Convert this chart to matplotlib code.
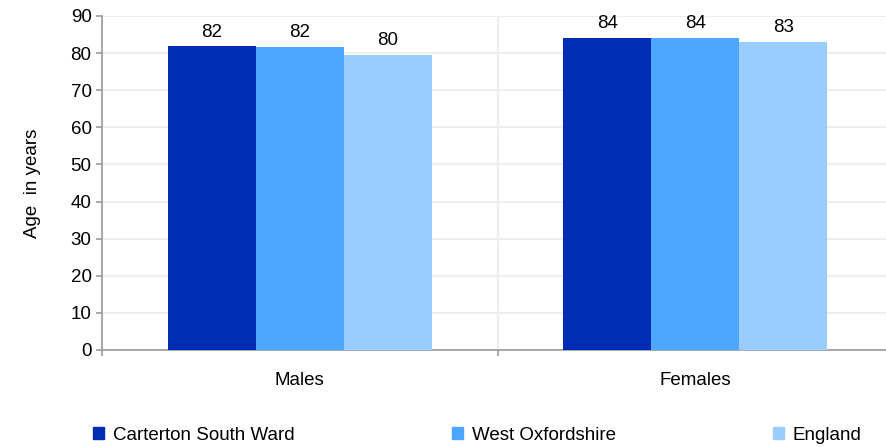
import matplotlib.pyplot as plt
import numpy as np
from matplotlib.patches import Patch

plt.rcParams["font.family"] = ["Liberation Sans", "DejaVu Sans"]

categories = ["Males", "Females"]
series_names = ["Carterton South Ward", "West Oxfordshire", "England"]
values = {
    "Carterton South Ward": [81.9, 84.1],
    "West Oxfordshire": [81.7, 84.1],
    "England": [79.5, 83.0],
}
colours = ["#002db3", "#4da6ff", "#99ccff"]
y_ticks = [0, 10, 20, 30, 40, 50, 60, 70, 80, 90]

W, H = 887, 447
FS = 13.5
fig = plt.figure(figsize=(W / 100, H / 100), dpi=100)
ax = fig.add_axes([102 / W, 1 - 350 / H, (893 - 102) / W, (350 - 16) / H])

x = np.arange(len(categories))
width = 0.2225
for i, (name, col) in enumerate(zip(series_names, colours)):
    vals = values[name]
    bars = ax.bar(x + (i - 1) * width, vals, width, color=col, zorder=3)
    ax.bar_label(bars, labels=[f"{v:.0f}" for v in vals], padding=4, fontsize=FS)

ax.set_xlim(-0.5, len(categories) - 0.5)
ax.set_ylim(0, 90)
ax.set_yticks(y_ticks)
ax.set_xticks(x)
ax.set_xticklabels(categories)
ax.set_xticks(np.arange(len(categories) + 1) - 0.5, minor=True)

# Grid
ax.grid(axis="y", color="#eeeeee", linewidth=1.5, zorder=0)
ax.grid(axis="x", which="minor", color="#eeeeee", linewidth=1.5, zorder=0)
ax.set_axisbelow(True)

for side in ["top", "right"]:
    ax.spines[side].set_visible(False)
for side in ["left", "bottom"]:
    ax.spines[side].set_color("#999999")
    ax.spines[side].set_linewidth(1.2)

ax.tick_params(axis="y", labelsize=FS, length=4, color="#999999", width=1.2)
ax.tick_params(axis="x", which="major", labelsize=FS, length=0, pad=16)
ax.tick_params(axis="x", which="minor", length=4, color="#999999", width=1.2)
ax.set_ylabel("Age  in years", fontsize=FS, labelpad=21)

handles = [Patch(color=c) for c in colours]
fig.legend(
    handles,
    series_names,
    loc="center left",
    bbox_to_anchor=(93 / W, 1 - 435 / H),
    ncol=3,
    frameon=False,
    fontsize=FS,
    handlelength=0.6,
    handleheight=0.6,
    handletextpad=0.45,
    columnspacing=8.4,
    borderaxespad=0,
    borderpad=0,
)

fig.savefig("out.png", dpi=100)
